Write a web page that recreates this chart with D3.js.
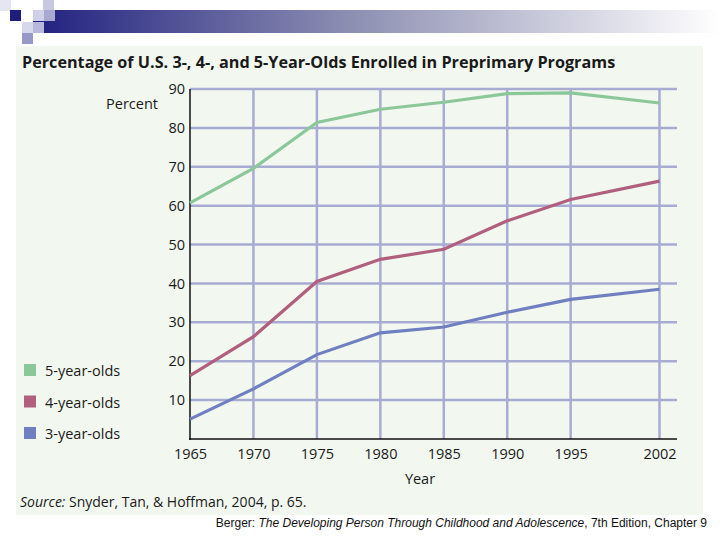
<!DOCTYPE html>
<html><head><meta charset="utf-8">
<script src="https://cdn.jsdelivr.net/npm/d3@7/dist/d3.min.js"></script>
<style>body{margin:0;background:#fff;}svg{display:block;}</style>
</head><body>
<script>
const years = [1965, 1970, 1975, 1980, 1985, 1990, 1995, 2002];
const fiveYearOlds = [60.7, 69.6, 81.4, 84.8, 86.6, 88.8, 89.0, 86.4];
const fourYearOlds = [16.3, 26.3, 40.5, 46.2, 48.8, 56.1, 61.6, 66.3];
const threeYearOlds = [5.1, 12.9, 21.7, 27.3, 28.8, 32.6, 35.9, 38.5];
const seriesNames = ["5-year-olds", "4-year-olds", "3-year-olds"];
const seriesColors = ["#8cc79a", "#b0607e", "#6f7fbf"];
const yTicks = [10, 20, 30, 40, 50, 60, 70, 80, 90];

const W = 720, H = 540;
const svg = d3.select("body").append("svg").attr("width", W).attr("height", H);

// Header decoration
const defs = svg.append("defs");
const grad = defs.append("linearGradient").attr("id", "hg").attr("x1", "0").attr("x2", "1");
grad.append("stop").attr("offset", "0").attr("stop-color", "#202080");
grad.append("stop").attr("offset", "0.45").attr("stop-color", "#8a8cb0");
grad.append("stop").attr("offset", "1").attr("stop-color", "#ffffff");
svg.append("rect").attr("x", 33).attr("y", 10).attr("width", 687).attr("height", 23).attr("fill", "url(#hg)");
const sq = [
  [0, 0, "#e6e6f2"], [43, 0, "#c8c8e0"],
  [10, 10, "#1e1e7a"], [33, 10, "#d0d0e8"], [44, 10, "#a8a8d0"],
  [22, 22, "#d8d8ec"], [33, 22, "#b8b8dc"],
  [22, 33, "#9898c8"]
];
svg.selectAll("rect.sq").data(sq).enter().append("rect").attr("class", "sq")
  .attr("x", d => d[0]).attr("y", d => d[1]).attr("width", 11).attr("height", 11).attr("fill", d => d[2]);

// Panel
svg.append("rect").attr("x", 16).attr("y", 46).attr("width", 687).attr("height", 469).attr("fill", "#f2f7f0");

const x = d3.scaleLinear().domain([1965, 2002]).range([190, 659.5]);
const y = d3.scaleLinear().domain([0, 90]).range([439, 89]);
const gridRight = 677;

// Title
svg.append("text").attr("x", 22).attr("y", 68)
  .attr("font-family", "Open Sans").attr("font-weight", "bold").attr("font-size", 16.2).attr("fill", "#1a1a1a")
  .text("Percentage of U.S. 3-, 4-, and 5-Year-Olds Enrolled in Preprimary Programs");

// Grid
const g = svg.append("g");
g.selectAll("line.hg").data(yTicks).enter().append("line")
  .attr("x1", 190).attr("x2", gridRight).attr("y1", d => y(d)).attr("y2", d => y(d))
  .attr("stroke", "#a8abd2").attr("stroke-width", 2.5);
g.selectAll("line.vg").data(years.slice(1)).enter().append("line")
  .attr("x1", d => x(d)).attr("x2", d => x(d)).attr("y1", y(90)).attr("y2", y(0))
  .attr("stroke", "#a8abd2").attr("stroke-width", 2.5);

// Axes
const yAxis = d3.axisLeft(y).tickValues(yTicks).tickSize(0).tickPadding(5);
const ya = svg.append("g").attr("transform", "translate(190,0)").call(yAxis);
ya.select(".domain").remove();
ya.selectAll("text").attr("font-family", "Open Sans").attr("font-size", 14.5).attr("fill", "#1a1a1a");
const xAxis = d3.axisBottom(x).tickValues(years).tickFormat(d3.format("d")).tickSize(0).tickPadding(10);
const xa = svg.append("g").attr("transform", "translate(0,439)").call(xAxis);
xa.select(".domain").remove();
xa.selectAll("text").attr("font-family", "Open Sans").attr("font-size", 14.5).attr("fill", "#1a1a1a");
svg.append("line").attr("x1", 190).attr("x2", 190).attr("y1", y(90)).attr("y2", y(0) + 1).attr("stroke", "#111").attr("stroke-width", 1.5);
svg.append("line").attr("x1", 189).attr("x2", gridRight).attr("y1", y(0)).attr("y2", y(0)).attr("stroke", "#111").attr("stroke-width", 1.5);

svg.append("text").attr("x", 158).attr("y", 109).attr("text-anchor", "end")
  .attr("font-family", "Open Sans").attr("font-size", 14.5).attr("fill", "#1a1a1a").text("Percent");
svg.append("text").attr("x", 420).attr("y", 484).attr("text-anchor", "middle")
  .attr("font-family", "Open Sans").attr("font-size", 14.5).attr("fill", "#1a1a1a").text("Year");

// Lines
const allSeries = [fiveYearOlds, fourYearOlds, threeYearOlds];
const line = d3.line().x((d, i) => x(years[i])).y(d => y(d));
svg.selectAll("path.s").data(allSeries).enter().append("path")
  .attr("d", line).attr("fill", "none")
  .attr("stroke", (d, i) => seriesColors[i]).attr("stroke-width", 3.2);

// Legend
const lg = svg.selectAll("g.lg").data(seriesNames).enter().append("g")
  .attr("transform", (d, i) => `translate(24,${364 + i * 31.5})`);
lg.append("rect").attr("width", 12).attr("height", 12).attr("fill", (d, i) => seriesColors[i]);
lg.append("text").attr("x", 21).attr("y", 12).attr("font-family", "Open Sans").attr("font-size", 14.5)
  .attr("fill", "#1a1a1a").text(d => d);

// Source
const src = svg.append("text").attr("x", 20).attr("y", 507).attr("font-family", "Open Sans").attr("font-size", 14).attr("fill", "#1a1a1a");
src.append("tspan").attr("font-style", "italic").text("Source:");
src.append("tspan").text(" Snyder, Tan, & Hoffman, 2004, p. 65.");

// Caption
const cap = svg.append("text").attr("x", 707).attr("y", 527).attr("text-anchor", "end")
  .attr("font-family", "Liberation Sans").attr("font-size", 12).attr("fill", "#111");
cap.append("tspan").text("Berger: ");
cap.append("tspan").attr("font-style", "italic").text("The Developing Person Through Childhood and Adolescence");
cap.append("tspan").text(", 7th Edition, Chapter 9");
</script>
</body></html>
